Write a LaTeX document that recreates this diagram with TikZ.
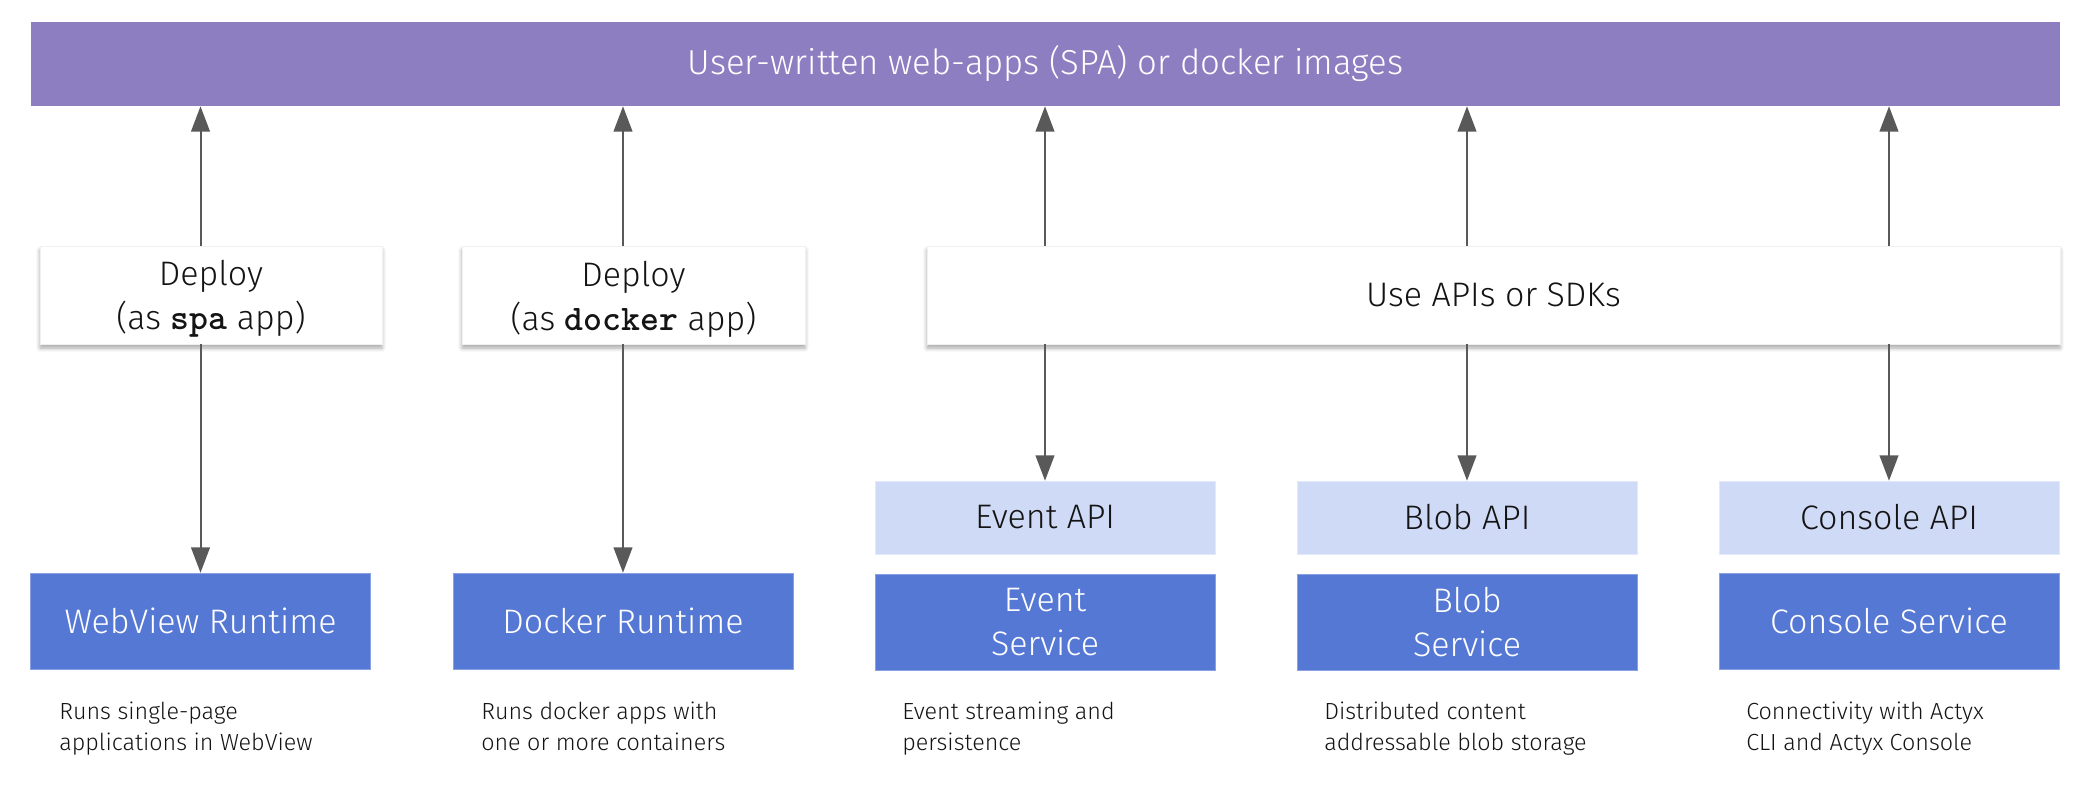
\documentclass[tikz,border=0pt]{standalone}
\usepackage{fontspec}
\setmainfont{Fira Sans Light}[BoldFont={Fira Sans}]
\usetikzlibrary{arrows.meta,shadows.blur}
\definecolor{barpurple}{RGB}{141,125,193}
\definecolor{svcblue}{RGB}{86,120,213}
\definecolor{apiblue}{RGB}{207,218,246}
\definecolor{arrowgray}{RGB}{89,89,89}
\definecolor{txtdark}{RGB}{20,20,20}
\newcommand{\codeword}[1]{{\ttfamily\bfseries\fontsize{27}{32}\selectfont #1}}
\tikzset{
  bigfont/.style={font=\fontsize{25.5}{33}\selectfont},
  topbar/.style={font=\fontsize{26}{33}\selectfont, fill=barpurple, text=white, inner sep=0pt,
    minimum width=1521.75pt, minimum height=63pt},
  deploybox/.style={bigfont, fill=white, draw=black!6, text=txtdark, align=center,
    inner sep=0pt, minimum height=73.5pt,
    blur shadow={shadow xshift=0pt, shadow yshift=-3pt, shadow blur radius=3pt, shadow opacity=35}},
  boxtext/.style={bigfont, text=txtdark, align=center, inner sep=0pt},
  apibox/.style={bigfont, fill=apiblue, draw=apiblue!60!white, text=txtdark, inner sep=0pt,
    minimum width=255pt, minimum height=54.75pt},
  svcbox/.style={bigfont, fill=svcblue, draw=svcblue!70!white, text=white, align=center,
    inner sep=0pt, minimum width=255pt, minimum height=72pt},
  desc/.style={font=\fontsize{17.5}{23}\selectfont, text=txtdark, align=left,
    anchor=north west, inner sep=0pt},
  conn/.style={draw=arrowgray, line width=1.5pt, -{Triangle[length=19pt,width=14pt]}}
}
\begin{document}
\begin{tikzpicture}[x=0.75pt, y=-0.75pt]
  \useasboundingbox (0,0) rectangle (2089,794);
  % top bar
  \node[topbar] (top) at (1045.5,64) {User-written web-apps (SPA) or docker images};
  % deploy / api boxes
  \node[deploybox, minimum width=256.5pt] (d1) at (211,295) {};
  \node[boxtext] (d1t) at ([yshift=-3pt]d1.center) {Deploy\\(as \codeword{spa} app)};
  \node[deploybox, minimum width=257.25pt] (d2) at (633.5,295) {};
  \node[boxtext] (d2t) at ([yshift=-3pt]d2.center) {Deploy\\(as \codeword{docker} app)};
  \node[deploybox, minimum width=849.75pt] (use) at (1493.5,295) {Use APIs or SDKs};
  % API boxes
  \node[apibox] (eapi) at (1045,517.5) {Event API};
  \node[apibox] (bapi) at (1467,517.5) {Blob API};
  \node[apibox] (capi) at (1889,517.5) {Console API};
  % service / runtime boxes
  \node[svcbox] (rt1) at (200.5,621) {WebView Runtime};
  \node[svcbox] (rt2) at (623,621) {Docker Runtime};
  \node[svcbox] (esvc) at (1045,622) {Event\\Service};
  \node[svcbox] (bsvc) at (1467,622) {Blob\\Service};
  \node[svcbox] (csvc) at (1889,621) {Console Service};
  % descriptions
  \node[desc] (t1) at (59,702) {Runs single-page\\applications in WebView};
  \node[desc] (t2) at (481,702) {Runs docker apps with\\one or more containers};
  \node[desc] (t3) at (902,702) {Event streaming and\\persistence};
  \node[desc] (t4) at (1324,702) {Distributed content\\addressable blob storage};
  \node[desc] (t5) at (1746,702) {Connectivity with Actyx\\CLI and Actyx Console};
  % connectors
  \draw[conn] (rt1.north |- d1.north) -- (rt1.north |- top.south);
  \draw[conn] (rt1.north |- d1.south) -- (rt1.north);
  \draw[conn] (rt2.north |- d2.north) -- (rt2.north |- top.south);
  \draw[conn] (rt2.north |- d2.south) -- (rt2.north);
  \draw[conn] (eapi.north |- use.north) -- (eapi.north |- top.south);
  \draw[conn] (eapi.north |- use.south) -- (eapi.north);
  \draw[conn] (bapi.north |- use.north) -- (bapi.north |- top.south);
  \draw[conn] (bapi.north |- use.south) -- (bapi.north);
  \draw[conn] (capi.north |- use.north) -- (capi.north |- top.south);
  \draw[conn] (capi.north |- use.south) -- (capi.north);
\end{tikzpicture}
\end{document}
